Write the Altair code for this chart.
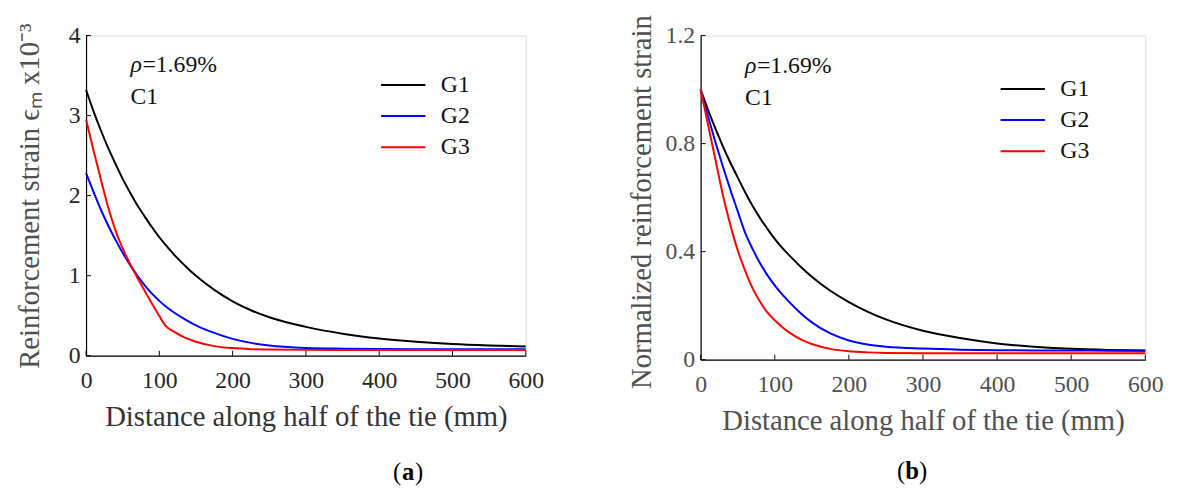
import altair as alt
import pandas as pd

FONT = "Liberation Serif"

series = ["G1", "G2", "G3"]
colors = ["#000000", "#0000ff", "#ff0000"]
x_ticks = [0, 100, 200, 300, 400, 500, 600]

# distance along half of the tie (mm)
dist = [0, 10, 20, 30, 40, 50, 60, 70, 80, 90, 100, 108, 120, 135, 150, 175,
        200, 225, 250, 300, 350, 400, 450, 500, 550, 600]

# (a) reinforcement strain x1e-3
a_g1 = [3.32, 3.06, 2.82, 2.60, 2.40, 2.21, 2.04, 1.88, 1.74, 1.605, 1.48, 1.39, 1.263,
        1.125, 0.998, 0.822, 0.68, 0.568, 0.48, 0.36, 0.275, 0.215, 0.175, 0.145, 0.127, 0.115]
a_g2 = [2.28, 2.05, 1.83, 1.63, 1.45, 1.285, 1.135, 1.00, 0.88, 0.775, 0.685, 0.62, 0.54,
        0.455, 0.38, 0.285, 0.21, 0.16, 0.127, 0.097, 0.088, 0.084, 0.082, 0.081, 0.08, 0.08]
a_g3 = [2.95, 2.57, 2.21, 1.86, 1.57, 1.34, 1.15, 0.975, 0.81, 0.65, 0.495, 0.38, 0.30,
        0.225, 0.175, 0.12, 0.095, 0.082, 0.077, 0.073, 0.072, 0.071, 0.07, 0.07, 0.07, 0.07]
a_yticks = [0, 1, 2, 3, 4]

# (b) normalized reinforcement strain
b_g1 = [1.0, 0.925, 0.855, 0.79, 0.73, 0.675, 0.62, 0.57, 0.525, 0.485, 0.447, 0.42, 0.385,
        0.344, 0.307, 0.255, 0.213, 0.178, 0.149, 0.107, 0.08, 0.06, 0.048, 0.04, 0.036, 0.034]
b_g2 = [1.0, 0.9, 0.805, 0.715, 0.63, 0.55, 0.47, 0.41, 0.358, 0.313, 0.275, 0.248, 0.212,
        0.172, 0.138, 0.097, 0.071, 0.056, 0.048, 0.041, 0.037, 0.035, 0.034, 0.034, 0.033, 0.033]
b_g3 = [1.0, 0.87, 0.74, 0.61, 0.50, 0.405, 0.33, 0.265, 0.215, 0.175, 0.146, 0.126, 0.10,
        0.075, 0.058, 0.04, 0.031, 0.027, 0.025, 0.024, 0.024, 0.024, 0.024, 0.024, 0.024, 0.024]
b_yticks = [0, 0.4, 0.8, 1.2]


def long_frame(g1, g2, g3):
    rows = []
    for name, vals in zip(series, [g1, g2, g3]):
        for d, v in zip(dist, vals):
            rows.append({"distance": d, "value": v, "series": name})
    return pd.DataFrame(rows)


def text_layer(txt, x, y, size=24, italic=False, bold=False, align="left", color="#111111"):
    return alt.Chart(pd.DataFrame({"k": [0]})).mark_text(
        text=txt, font=FONT, fontSize=size, align=align, baseline="alphabetic",
        fontStyle="italic" if italic else "normal",
        fontWeight="bold" if bold else "normal", color=color,
    ).encode(x=alt.value(x), y=alt.value(y))


def panel(g1, g2, g3, ymax, yticks, ytitle, w, h, lab_color, xt_color, yt_color,
          ylabel_expr, ytitle_pad, ytitle_y, leg_x, leg_y, ann_y, letter, letter_x, letter_y):
    df = long_frame(g1, g2, g3)
    xs = alt.Scale(domain=[0, 600], nice=False, zero=False)
    ys = alt.Scale(domain=[0, ymax], nice=False, zero=False)
    xaxis = alt.Axis(values=x_ticks, grid=False, tickSize=0, domainColor="black",
                     domainWidth=1.2, labelFont=FONT, labelFontSize=24, labelColor=lab_color,
                     labelPadding=13, labelFlush=False, labelOverlap=False,
                     title="Distance along half of the tie (mm)", titleFont=FONT,
                     titleFontSize=29, titleFontWeight="normal", titleColor=xt_color,
                     titlePadding=11)
    yaxis = alt.Axis(values=yticks, grid=False, tickSize=0, domainColor="black",
                     domainWidth=1.2, labelFont=FONT, labelFontSize=24, labelColor=lab_color,
                     labelPadding=6, labelExpr=ylabel_expr, labelOverlap=False,
                     title=ytitle, titleFont=FONT, titleFontSize=29, titleY=ytitle_y,
                     titleFontWeight="normal", titleColor=yt_color, titlePadding=ytitle_pad)
    lines = alt.Chart(df).mark_line(strokeWidth=2, interpolate="monotone").encode(
        x=alt.X("distance:Q", scale=xs, axis=xaxis),
        y=alt.Y("value:Q", scale=ys, axis=yaxis),
        color=alt.Color("series:N", scale=alt.Scale(domain=series, range=colors),
                        legend=alt.Legend(orient="none", legendX=leg_x, legendY=leg_y,
                                          title=None, symbolType="M-1.4,0H1.4",
                                          symbolSize=1024, symbolStrokeWidth=2,
                                          labelFont=FONT, labelFontSize=24,
                                          labelColor="#111111", labelOffset=21,
                                          rowPadding=2.5, padding=0)),
    )
    xt = alt.Chart(pd.DataFrame({"distance": x_ticks})).mark_rule(
        color="black", strokeWidth=1).encode(
        x=alt.X("distance:Q", scale=xs), y=alt.value(h), y2=alt.value(h - 5))
    yt = alt.Chart(pd.DataFrame({"value": yticks})).mark_rule(
        color="black", strokeWidth=1).encode(
        y=alt.Y("value:Q", scale=ys), x=alt.value(0), x2=alt.value(5))
    texts = [
        text_layer("ρ", 45, ann_y, italic=True),
        text_layer("=1.69%", 57, ann_y),
        text_layer("C1", 45, ann_y + 32),
        text_layer("(", letter_x - 7, letter_y, size=25, align="right", color="#000000"),
        text_layer(letter, letter_x, letter_y, size=25, bold=True, align="center",
                   color="#000000"),
        text_layer(")", letter_x + 7, letter_y, size=25, align="left", color="#000000"),
    ]
    return alt.layer(lines, xt, yt, *texts).properties(width=w, height=h)


left = panel(a_g1, a_g2, a_g3, 4, a_yticks, "Reinforcement strain  ϵₘ x10⁻³",
             445, 324, "#262626", "#333333", "#505050",
             "datum.value", 24, 162, 304, 33, 37, "a", 326, 450)
right = panel(b_g1, b_g2, b_g3, 1.2, b_yticks, "Normalized reinforcement strain",
              450, 328, "#505050", "#505050", "#505050",
              "datum.value == 0 ? '0' : format(datum.value, '.1f')", 9, 168, 309, 37, 38,
              "b", 214, 449)

chart = alt.hconcat(left, right, spacing=177, bounds="flush").resolve_scale(
    color="independent").configure_view(stroke=None).configure(background="white").properties(
    padding={"left": 7, "top": 3, "right": 5, "bottom": 0})

chart.save("out.html", embed_options={"renderer": "svg", "actions": False})
